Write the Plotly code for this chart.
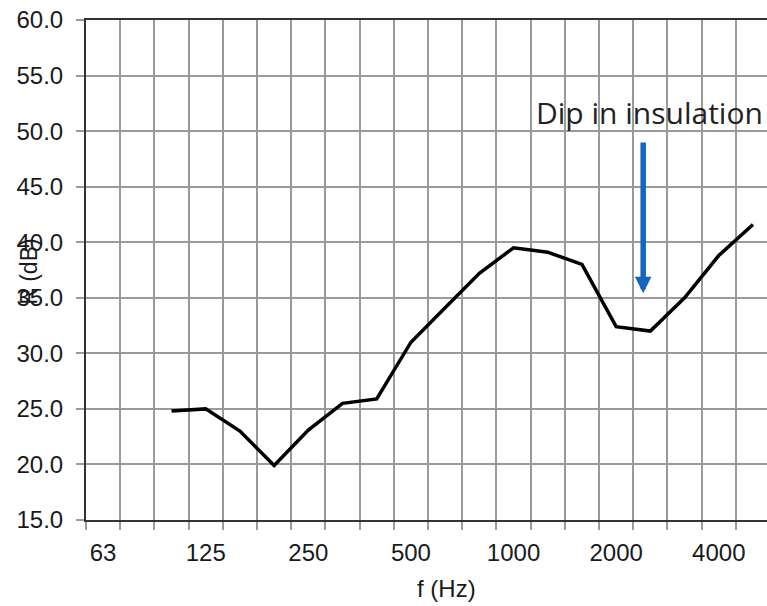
import plotly.graph_objects as go

# Third-octave band categories (x axis)
bands = ["63", "80", "100", "125", "160", "200", "250", "315", "400", "500",
         "630", "800", "1000", "1250", "1600", "2000", "2500", "3150", "4000", "5000"]
# Bands where the tick label is printed
labelled_bands = ["63", "125", "250", "500", "1000", "2000", "4000"]

# Measured sound reduction index R (dB), from 100 Hz to 5000 Hz
measured_bands = ["100", "125", "160", "200", "250", "315", "400", "500", "630", "800",
                  "1000", "1250", "1600", "2000", "2500", "3150", "4000", "5000"]
r_values = [24.8, 25.0, 23.0, 19.9, 23.1, 25.5, 25.9, 31.0, 34.1, 37.2,
            39.5, 39.1, 38.0, 32.4, 32.0, 35.0, 38.8, 41.6]

# y axis ticks
y_ticks = [15, 20, 25, 30, 35, 40, 45, 50, 55, 60]

# annotation: arrow pointing at dip (band-position, dB)
arrow_x = 15.79
arrow_tip_y = 35.4
arrow_tail_y = 49.1

idx = {b: i for i, b in enumerate(bands)}
x_pos = [idx[b] for b in measured_bands]

fig = go.Figure()
fig.add_trace(go.Scatter(
    x=x_pos, y=r_values, mode="lines",
    line=dict(color="black", width=3.5),
    showlegend=False, hoverinfo="skip",
))

tick_font = dict(family="Liberation Sans, Arial, sans-serif", size=24, color="#1a1a1a")

fig.update_layout(
    width=767, height=606,
    margin=dict(l=86, r=0, t=20, b=86),
    paper_bgcolor="white", plot_bgcolor="white",
    xaxis=dict(
        range=[-0.5, 19.41],
        tickmode="array",
        tickvals=[idx[b] for b in labelled_bands],
        ticktext=labelled_bands,
        ticks="outside", ticklen=10, tickcolor="rgba(0,0,0,0)",
        showgrid=False, zeroline=False,
        showline=True, linecolor="#333333", linewidth=2, mirror=True,
        tickfont=tick_font,
        minor=dict(tickmode="linear", tick0=-0.5, dtick=1,
                   ticks="outside", ticklen=8, tickcolor="#9a9a9a", tickwidth=1.5,
                   showgrid=True, gridcolor="#9a9a9a", gridwidth=1.5),
    ),
    yaxis=dict(
        range=[15, 60],
        tickmode="array", tickvals=y_ticks,
        tickformat=".1f",
        ticks="outside", ticklen=8, tickcolor="#9a9a9a", tickwidth=1.5,
        ticklabelstandoff=8,
        showgrid=True, gridcolor="#9a9a9a", gridwidth=1.5,
        zeroline=False,
        showline=True, linecolor="#333333", linewidth=2,
        tickfont=tick_font,
    ),
)

# axis titles as annotations (placed like the reference)
fig.add_annotation(xref="paper", yref="paper", x=0.530, y=-0.136,
                   text="f (Hz)", showarrow=False, xanchor="center", yanchor="middle",
                   font=tick_font)
fig.add_annotation(xref="paper", yref="paper", x=-0.084, y=0.496,
                   text="R (dB)", showarrow=False, textangle=-90,
                   xanchor="center", yanchor="middle",
                   font=dict(family="Liberation Sans, Arial, sans-serif", size=23, color="#1a1a1a"))

# Dip annotation
fig.add_annotation(xref="x", yref="y", x=15.96, y=51.7,
                   text="Dip in insulation", showarrow=False,
                   xanchor="center", yanchor="middle",
                   font=dict(family="Open Sans, Noto Sans, sans-serif", size=30, color="#222222"))
fig.add_annotation(xref="x", yref="y", x=arrow_x, y=arrow_tip_y,
                   axref="x", ayref="y", ax=arrow_x, ay=arrow_tail_y,
                   text="", showarrow=True, arrowhead=2, arrowsize=0.6,
                   arrowwidth=5.5, arrowcolor="#1565C0")

fig.write_html("out.html")
